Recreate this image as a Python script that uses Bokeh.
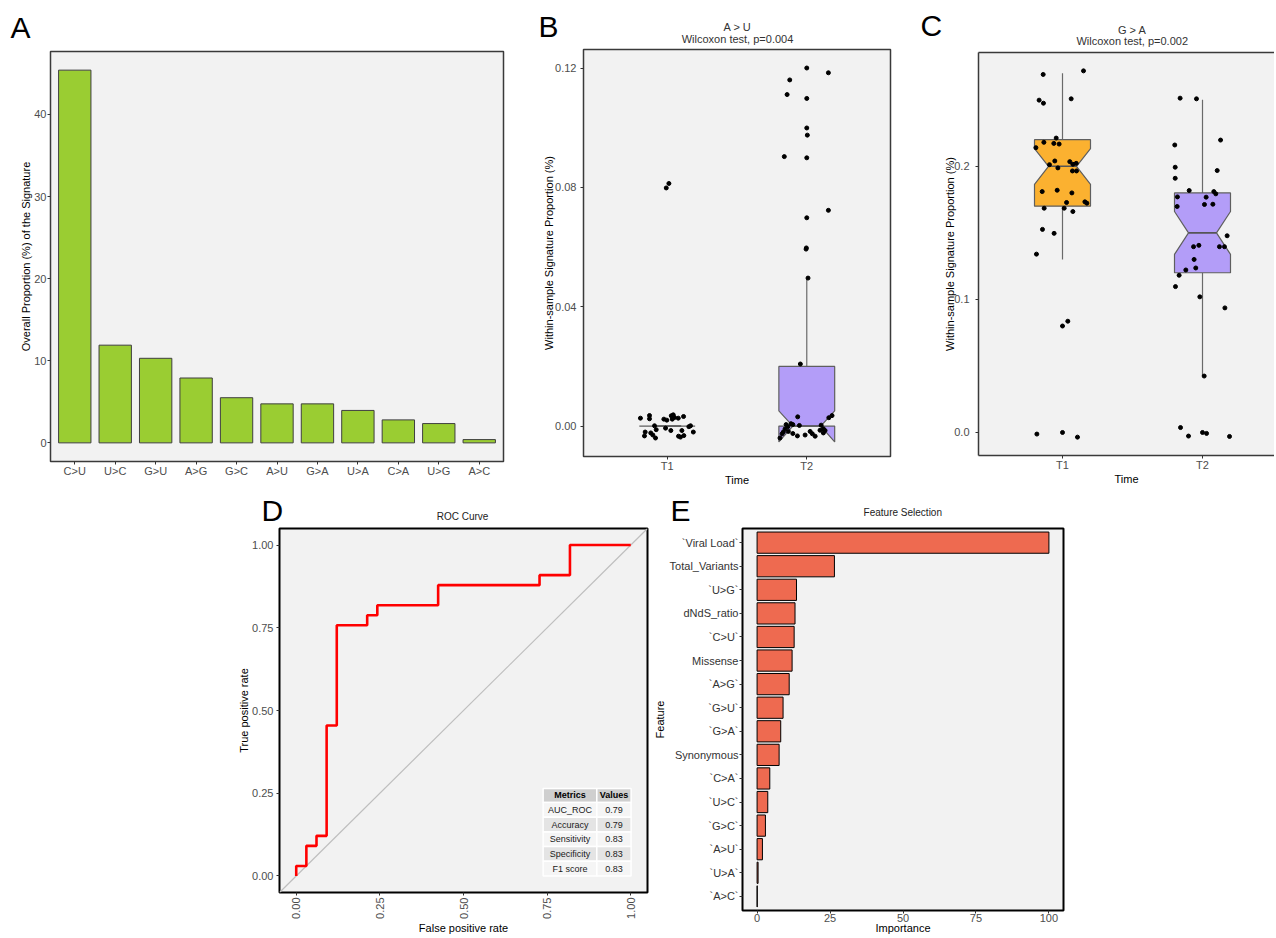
import math
from bokeh.plotting import figure
from bokeh.models import Range1d, FixedTicker, LinearAxis, Spacer, PrintfTickFormatter, Slope
from bokeh.layouts import row, column
from bokeh.embed import file_html
from bokeh.resources import INLINE
from bokeh.core.properties import value

FONT = "Liberation Sans"
TICK_COLOR = "#4D4D4D"

# ---------------- Panel A data ----------------
sig_cats = ["C>U", "U>C", "G>U", "A>G", "G>C", "A>U", "G>A", "U>A", "C>A", "U>G", "A>C"]
sig_prop = [45.4, 11.9, 10.3, 7.9, 5.5, 4.75, 4.75, 3.95, 2.8, 2.35, 0.4]
a_yticks = [0, 10, 20, 30, 40]

# ---------------- Panel B data (A > U) ----------------
group_labels = ["T1", "T2"]
au_t1_dx = [-0.192, -0.127, -0.127, -0.024, -0.003, 0.029, 0.043, 0.052, 0.036, 0.079, 0.117,
            -0.091, 0.167, 0.155, -0.158, -0.163, -0.118, -0.103, -0.084, -0.079, -0.012, 0.026,
            0.081, 0.095, 0.119, 0.105, 0.187, -0.007, 0.012]
au_t1_y = [0.00265, 0.00354, 0.00245, 0.00232, 0.00199, 0.00344, 0.00377, 0.00288, 0.00232, 0.00265,
           0.00321, 0.0001, 0.0001, -0.0002, -0.0020, -0.0033, -0.0023, -0.0030, -0.0040, -0.0012,
           -0.0007, -0.0015, -0.0034, -0.0037, -0.0032, -0.0015, -0.0020, 0.0798, 0.0813]
au_t2_dx = [0.0, 0.155, -0.122, -0.141, 0.0, 0.0, 0.004, -0.161, 0.0, 0.155, 0.0, -0.003, -0.005,
            0.009, -0.046, -0.065, 0.181, 0.158, -0.148, -0.113, -0.100, -0.053, 0.103, 0.119, 0.095,
            0.131, -0.156, -0.168, -0.177, -0.192, -0.132, -0.100, -0.067, -0.012, 0.024, 0.040,
            0.060, 0.119, -0.136]
au_t2_y = [0.12, 0.1184, 0.1160, 0.1111, 0.1098, 0.0999, 0.0975, 0.0903, 0.0899, 0.0723, 0.0698,
           0.0597, 0.0593, 0.0496, 0.0208, 0.0031, 0.0035, 0.0028, 0.0005, 0.0008, 0.0005, 0.0002,
           0.0003, -0.0009, -0.0014, -0.0015, -0.0010, -0.0020, -0.0026, -0.0040, -0.0018, -0.0025,
           -0.0033, -0.0030, -0.0018, -0.0026, -0.0034, -0.0023, -0.0002]
au_q1 = [0.0, 0.0]
au_med = [0.0, 0.0]
au_q3 = [0.0, 0.020]
au_notch_lo = [0.0, -0.0053]
au_notch_hi = [0.0, 0.0051]
au_whisk_lo = [0.0, 0.0]
au_whisk_hi = [0.0, 0.0497]
b_yticks = [0.00, 0.04, 0.08, 0.12]

# ---------------- Panel C data (G > A) ----------------
ga_t1_dx = [-0.138, 0.150, -0.167, -0.136, 0.062, -0.045, -0.133, -0.062, -0.024, -0.190, -0.055,
            0.052, -0.093, 0.074, 0.098, -0.033, 0.071, 0.100, -0.145, -0.038, 0.067, 0.160, 0.174,
            0.029, -0.131, 0.012, 0.074, -0.143, -0.060, -0.186, 0.0, 0.038, -0.183, 0.0, 0.107]
ga_t1_y = [0.269, 0.2717, 0.2497, 0.2474, 0.2507, 0.2212, 0.218, 0.2172, 0.2167, 0.214, 0.204,
           0.2035, 0.2012, 0.2015, 0.2022, 0.1988, 0.1965, 0.1965, 0.181, 0.182, 0.180, 0.1733,
           0.1723, 0.1728, 0.1685, 0.1685, 0.166, 0.1526, 0.1496, 0.134, 0.080, 0.0836, -0.0012,
           0.0, -0.0035]
ga_t2_dx = [-0.160, -0.043, -0.198, 0.129, -0.195, 0.105, -0.195, -0.095, 0.081, 0.095, -0.179,
            0.026, -0.181, 0.014, 0.074, 0.176, -0.026, -0.064, 0.121, 0.157, -0.060, -0.048,
            -0.119, -0.167, -0.193, -0.019, 0.160, 0.012, -0.157, -0.100, 0.0, 0.029, 0.193]
ga_t2_y = [0.2512, 0.2507, 0.216, 0.2197, 0.1993, 0.1968, 0.191, 0.1818, 0.181, 0.1793, 0.177,
           0.1768, 0.1698, 0.1713, 0.1715, 0.1478, 0.1406, 0.1396, 0.1396, 0.1396, 0.130, 0.1236,
           0.1221, 0.1181, 0.1096, 0.1019, 0.0936, 0.0424, 0.0037, -0.0027, 0.0, -0.0007, -0.003]
ga_q1 = [0.170, 0.120]
ga_med = [0.200, 0.150]
ga_q3 = [0.220, 0.180]
ga_notch_lo = [0.1865, 0.1338]
ga_notch_hi = [0.2132, 0.166]
ga_whisk_lo = [0.130, 0.0424]
ga_whisk_hi = [0.270, 0.250]
c_yticks = [0.0, 0.1, 0.2]
box_fills = ["#FBB130", "#B39DF8"]

# ---------------- Panel D data (ROC) ----------------
roc_fpr = [0.0, 0.0, 0.0303, 0.0303, 0.0606, 0.0606, 0.0909, 0.0909, 0.1212, 0.1212, 0.2121,
           0.2121, 0.2424, 0.2424, 0.4242, 0.4242, 0.7273, 0.7273, 0.8182, 0.8182, 1.0]
roc_tpr = [0.0, 0.0303, 0.0303, 0.0909, 0.0909, 0.1212, 0.1212, 0.4545, 0.4545, 0.7576, 0.7576,
           0.7879, 0.7879, 0.8182, 0.8182, 0.8788, 0.8788, 0.9091, 0.9091, 1.0, 1.0]
d_ticks = [0.0, 0.25, 0.5, 0.75, 1.0]
metric_names = ["AUC_ROC", "Accuracy", "Sensitivity", "Specificity", "F1 score"]
metric_values = ["0.79", "0.79", "0.83", "0.83", "0.83"]
table_header = ["Metrics", "Values"]

# ---------------- Panel E data (feature importance) ----------------
feat_names = ["`Viral Load`", "Total_Variants", "`U>G`", "dNdS_ratio", "`C>U`", "Missense", "`A>G`",
              "`G>U`", "`G>A`", "Synonymous", "`C>A`", "`U>C`", "`G>C`", "`A>U`", "`U>A`", "`A>C`"]
feat_imp = [100.0, 26.5, 13.5, 13.0, 12.7, 12.0, 11.0, 8.9, 8.1, 7.55, 4.35, 3.66, 2.86, 1.83, 0.34, 0.05]
e_xticks = [0, 25, 50, 75, 100]

# ---------------- panel letters and titles ----------------
panel_letters = ["A", "B", "C", "D", "E"]
b_title = ["A > U", "Wilcoxon test, p=0.004"]
c_title = ["G > A", "Wilcoxon test, p=0.002"]
d_title = "ROC Curve"
e_title = "Feature Selection"

PAGE_W = 1274
H1, R1, H2, R2 = 48, 440, 39, 409


def base_fig(w, h, xr, yr, bl, br, bt, bb):
    p = figure(width=w, height=h, x_range=Range1d(*xr), y_range=Range1d(*yr),
               output_backend="svg", toolbar_location=None, title=None,
               min_border_left=bl, min_border_right=br, min_border_top=bt, min_border_bottom=bb)
    p.background_fill_color = "#F2F2F2"
    p.border_fill_color = "white"
    p.grid.visible = False
    for ax in p.axis:
        ax.axis_line_color = None
        ax.major_tick_in = 0
        ax.major_tick_out = 3
        ax.major_tick_line_color = "#333333"
        ax.minor_tick_line_color = None
        ax.major_label_text_font = FONT
        ax.major_label_text_font_size = "11px"
        ax.major_label_text_color = TICK_COLOR
        ax.axis_label_text_font = FONT
        ax.axis_label_text_font_size = "11px"
        ax.axis_label_text_font_style = "normal"
        ax.axis_label_text_color = "black"
        ax.major_label_standoff = 0
        ax.axis_label_standoff = 0
    p.outline_line_color = "#3a3a3a"
    p.outline_line_width = 1.5
    return p


def header_fig(w, h):
    p = figure(width=w, height=h, x_range=Range1d(0, w), y_range=Range1d(h, 0),
               output_backend="svg", toolbar_location=None, title=None,
               x_axis_location=None, y_axis_location=None,
               min_border_left=0, min_border_right=0, min_border_top=0, min_border_bottom=0)
    p.grid.visible = False
    p.outline_line_color = None
    p.background_fill_color = None
    p.border_fill_color = None
    return p


def put_text(p, xs, ys, texts, size="11px", align="center", baseline="middle", color="black",
             style="normal"):
    p.text(x=xs, y=ys, text=texts, text_font=value(FONT), text_font_size=size,
           text_align=align, text_baseline=baseline, text_color=color, text_font_style=style)


def draw_boxes(p, q1, med, q3, nlo, nhi, wlo, whi, fills, w=0.4):
    centers = [i + 1 for i in range(len(q1))]
    xs_all, ys_all = [], []
    for i, xc in enumerate(centers):
        x0, x1 = xc - w / 2, xc + w / 2
        ni = w / 4
        xs_all.append([x0, x0, x0 + ni, x0, x0, x1, x1, x1 - ni, x1, x1])
        ys_all.append([q3[i], nhi[i], med[i], nlo[i], q1[i], q1[i], nlo[i], med[i], nhi[i], q3[i]])
    p.segment(x0=centers, y0=q3, x1=centers, y1=whi, line_color="#6a6a6a", line_width=1.2)
    p.segment(x0=centers, y0=wlo, x1=centers, y1=q1, line_color="#6a6a6a", line_width=1.2)
    p.patches(xs_all, ys_all, fill_color=fills, line_color="#5f5f5f", line_width=1.2)
    p.segment(x0=[c - w / 4 for c in centers], y0=med, x1=[c + w / 4 for c in centers], y1=med,
              line_color="#555555", line_width=1.6)


# ---------------- header row 1 (letters A-C, titles B/C) ----------------
h1 = header_fig(PAGE_W, H1)
put_text(h1, [10, 538, 920], [26.5, 26, 25.3], panel_letters[:3], size="30px", align="left")
put_text(h1, [737, 737], [26, 38.3], b_title, color="#333333")
put_text(h1, [1131.7, 1131.7], [29, 40.7], c_title, color="#333333")

# ---------------- Panel A ----------------
pA = base_fig(530, R1, (0.4, 11.6), (-2.27, 47.67), 50, 27, 3, 27)
a_x = list(range(1, len(sig_cats) + 1))
pA.vbar(x=a_x, top=sig_prop, bottom=0, width=0.8, fill_color="#9ACD32", line_color="#3f3f3f", line_width=1)
pA.xaxis.ticker = FixedTicker(ticks=a_x)
pA.xaxis.major_label_overrides = {x: c for x, c in zip(a_x, sig_cats)}
pA.yaxis.ticker = FixedTicker(ticks=a_yticks)
pA.yaxis.major_label_standoff = 1
pA.yaxis.axis_label = "Overall Proportion (%) of the Signature"
pA.yaxis.axis_label_standoff = -1

# ---------------- Panel B ----------------
pB = base_fig(385, R1, (0.4, 2.6), (-0.0102, 0.1262), 53, 25, 1, 28)
draw_boxes(pB, au_q1, au_med, au_q3, au_notch_lo, au_notch_hi, au_whisk_lo, au_whisk_hi, [box_fills[1]] * 2)
pB.scatter([1 + d for d in au_t1_dx], au_t1_y, size=4, color="black")
pB.scatter([2 + d for d in au_t2_dx], au_t2_y, size=4, color="black")
pB.xaxis.ticker = FixedTicker(ticks=[1, 2])
pB.xaxis.major_label_overrides = {1: group_labels[0], 2: group_labels[1]}
pB.xaxis.axis_label = "Time"
pB.xaxis.axis_label_standoff = -1
pB.yaxis.ticker = FixedTicker(ticks=b_yticks)
pB.yaxis.formatter = PrintfTickFormatter(format="%.2f")
pB.yaxis.major_label_standoff = 4
pB.yaxis.axis_label = "Within-sample Signature Proportion (%)"
pB.yaxis.axis_label_standoff = -3

# ---------------- Panel C ----------------
c_w = PAGE_W - 530 - 385
pC = base_fig(c_w, R1, (0.4, 0.4 + (c_w - 63) / 140.0), (-0.0173, 0.2855), 63, 0, 4, 33)
pC.outline_line_color = None
for ax in pC.axis:
    ax.axis_line_color = "#3a3a3a"
    ax.axis_line_width = 1.5
draw_boxes(pC, ga_q1, ga_med, ga_q3, ga_notch_lo, ga_notch_hi, ga_whisk_lo, ga_whisk_hi, box_fills)
pC.scatter([1 + d for d in ga_t1_dx], ga_t1_y, size=4, color="black")
pC.scatter([2 + d for d in ga_t2_dx], ga_t2_y, size=4, color="black")
xb = pC.below[0]
xb.ticker = FixedTicker(ticks=[1, 2])
xb.major_label_overrides = {1: group_labels[0], 2: group_labels[1]}
xb.axis_label = "Time"
xb.axis_label_standoff = -1
yl = pC.left[0]
yl.ticker = FixedTicker(ticks=c_yticks)
yl.formatter = PrintfTickFormatter(format="%.1f")
yl.major_label_standoff = 6
yl.axis_label = "Within-sample Signature Proportion (%)"
yl.axis_label_standoff = -5
top_ax = LinearAxis(ticker=FixedTicker(ticks=[]), axis_line_color="#3a3a3a", axis_line_width=1.5,
                    major_tick_out=0, major_tick_in=0, minor_tick_out=0, minor_tick_in=0,
                    major_label_standoff=0, axis_label_standoff=0)
pC.add_layout(top_ax, "above")

# ---------------- header row 2 (letters D/E, titles) ----------------
h2 = header_fig(PAGE_W, H2)
put_text(h2, [261, 670], [22.1, 21.6], panel_letters[3:], size="30px", align="left")
put_text(h2, [462, 902.3], [28, 24.3], [d_title, e_title], size="10px", color="#222222")

# ---------------- Panel D ----------------
pD = base_fig(419, R2, (-0.05, 1.05), (-0.05, 1.05), 49, 2, 1, 39)
pD.outline_line_color = "black"
pD.outline_line_width = 2
pD.add_layout(Slope(gradient=1, y_intercept=0, line_color="#BEBEBE", line_width=1.2, level="underlay"))
pD.line(roc_fpr, roc_tpr, line_color="red", line_width=2.6)
for ax in (pD.xaxis, pD.yaxis):
    ax.ticker = FixedTicker(ticks=d_ticks)
    ax.formatter = PrintfTickFormatter(format="%.2f")
pD.xaxis.major_label_orientation = math.pi / 2
pD.xaxis.major_label_standoff = 2
pD.xaxis.axis_label = "False positive rate"
pD.xaxis.axis_label_standoff = 0
pD.yaxis.major_label_standoff = 3
pD.yaxis.axis_label = "True positive rate"
pD.yaxis.axis_label_standoff = -1

# metrics table (drawn inside the plot area)
t_left, t_mid, t_right = 0.738, 0.8985, 1.001
t_top, head_h, row_h = 0.2645, 0.0425, 0.0444
head_bot = t_top - head_h
pD.quad(left=[t_left, t_mid], right=[t_mid, t_right], top=[t_top, t_top], bottom=[head_bot, head_bot],
        fill_color="#CFCFCF", line_color="white", line_width=1.5)
r_tops = [head_bot - i * row_h for i in range(len(metric_names))]
r_bots = [t - row_h for t in r_tops]
r_fill = ["#F5F5F5" if i % 2 == 0 else "#E4E4E4" for i in range(len(metric_names))]
pD.quad(left=[t_left] * len(r_tops), right=[t_mid] * len(r_tops), top=r_tops, bottom=r_bots,
        fill_color=r_fill, line_color="white", line_width=1.5)
pD.quad(left=[t_mid] * len(r_tops), right=[t_right] * len(r_tops), top=r_tops, bottom=r_bots,
        fill_color=r_fill, line_color="white", line_width=1.5)
c1 = (t_left + t_mid) / 2
c2 = (t_mid + t_right) / 2
put_text(pD, [c1, c2], [t_top - head_h / 2] * 2, table_header, size="9px", style="bold")
r_mid = [(a + b) / 2 for a, b in zip(r_tops, r_bots)]
put_text(pD, [c1] * len(r_mid), r_mid, metric_names, size="9px", color="#1a1a1a")
put_text(pD, [c2] * len(r_mid), r_mid, metric_values, size="9px", color="#1a1a1a")

# ---------------- Panel E ----------------
n_f = len(feat_names)
e_y = [n_f - i for i in range(n_f)]
pE = base_fig(426, R2, (-5, 105), (0.4, n_f + 0.6), 93, 12, 1, 25)
pE.outline_line_color = "black"
pE.outline_line_width = 2
pE.hbar(y=e_y, left=0, right=feat_imp, height=0.9, fill_color="#EE6A50", line_color="black", line_width=1)
pE.xaxis.ticker = FixedTicker(ticks=e_xticks)
pE.xaxis.major_label_standoff = 0
pE.xaxis.axis_label = "Importance"
pE.xaxis.axis_label_standoff = -3
pE.yaxis.ticker = FixedTicker(ticks=e_y)
pE.yaxis.major_label_overrides = {y: n for y, n in zip(e_y, feat_names)}
pE.yaxis.major_label_text_color = "#333333"
pE.yaxis.major_label_standoff = 1
pE.yaxis.axis_label = "Feature"
pE.yaxis.axis_label_standoff = 1

layout = column(h1,
                row(column(pA), column(pB), column(pC)),
                h2,
                row(Spacer(width=230, height=R2), column(pD), column(pE)))
open("out.html", "w").write(file_html(layout, INLINE))
